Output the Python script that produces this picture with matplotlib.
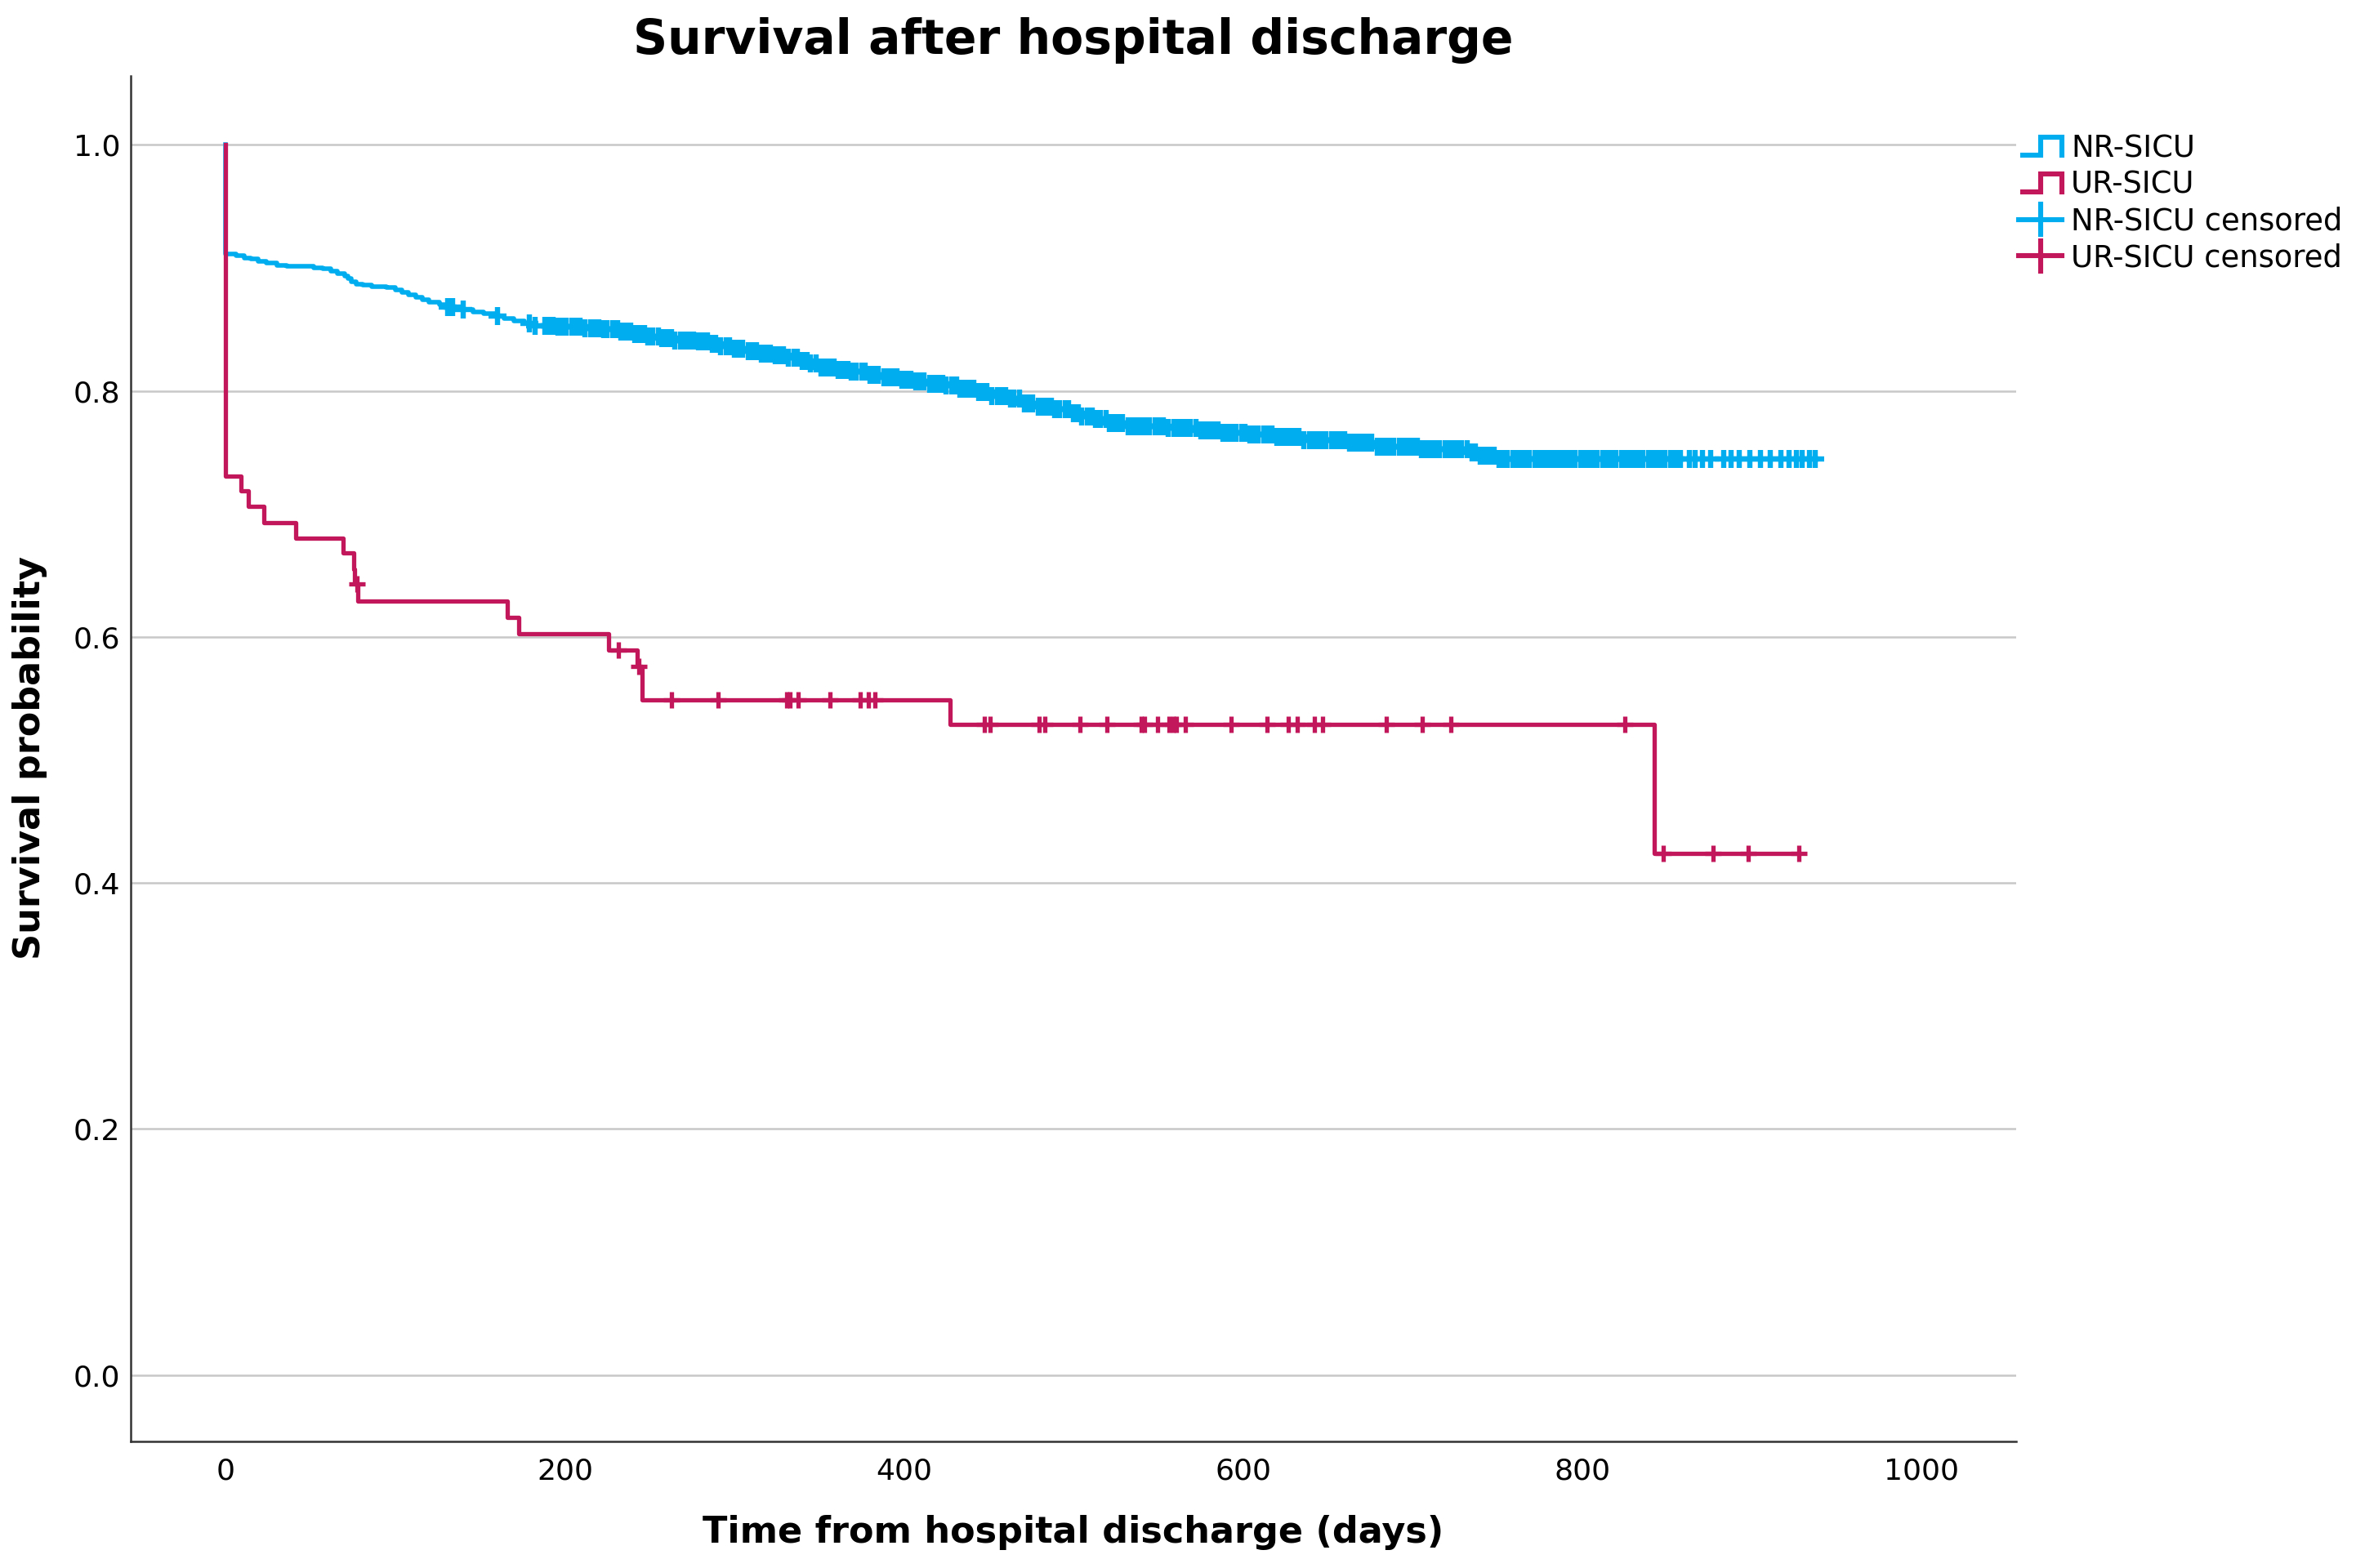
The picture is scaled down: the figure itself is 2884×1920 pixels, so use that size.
import numpy as np
import matplotlib
matplotlib.use('Agg')
import matplotlib.pyplot as plt
from matplotlib.lines import Line2D
from matplotlib.legend_handler import HandlerBase

# Colours
nr_color = '#00AEEF'
ur_color = '#C2185B'

# NR-SICU: step knots (days, survival after the step)
nr_time = [0, 0, 6, 11, 15, 19, 24, 30, 36,
           52, 57, 62, 66, 70, 72, 74, 77, 81, 86,
           95, 100, 104, 108, 112, 116, 120, 126, 131, 137,
           146, 152, 159, 164, 170, 176, 182, 195, 210, 221,
           232, 240, 248, 256, 264, 277, 285, 292, 300, 307,
           314, 323, 332, 338, 344, 350, 360, 369, 378, 387,
           397, 406, 415, 424, 433, 443, 452, 461, 470, 479,
           488, 498, 505, 512, 521, 530, 555, 573, 588, 604,
           619, 635, 662, 678, 705, 733, 739, 751]
nr_surv = [1.0, 0.911, 0.910, 0.908, 0.907, 0.905, 0.904, 0.902, 0.901,
           0.900, 0.899, 0.897, 0.895, 0.893, 0.891, 0.889, 0.887, 0.886, 0.885,
           0.884, 0.882, 0.880, 0.878, 0.876, 0.874, 0.872, 0.870, 0.868, 0.866,
           0.864, 0.863, 0.861, 0.859, 0.857, 0.855, 0.853, 0.852, 0.851, 0.850,
           0.848, 0.846, 0.844, 0.843, 0.841, 0.840, 0.838, 0.836, 0.834, 0.832,
           0.830, 0.829, 0.827, 0.824, 0.822, 0.819, 0.817, 0.8155, 0.813, 0.811,
           0.809, 0.8077, 0.806, 0.8044, 0.802, 0.799, 0.796, 0.7936, 0.790, 0.787,
           0.785, 0.782, 0.779, 0.777, 0.774, 0.7713, 0.770, 0.768, 0.766, 0.7647,
           0.7624, 0.760, 0.758, 0.7547, 0.7525, 0.750, 0.747, 0.7447]

# NR-SICU censored times (very dense from ~190 days on)
nr_cens = [131, 134, 140, 160.5, 179, 182.5,
           188, 191, 193, 196, 199, 201, 204, 207, 209, 212, 215, 217, 220, 223,
           225, 228, 231, 233, 236, 239, 241, 244, 247, 249, 252, 255, 257, 260,
           263, 265, 268, 271, 273, 276, 279, 281, 284, 287, 289, 292, 295, 297,
           300, 303, 305, 308, 311, 313, 316, 319, 321, 324, 327, 329, 332, 335,
           337, 340, 343, 345, 348, 351, 353, 356, 359, 361, 364, 367, 369, 372,
           375, 377, 380, 383, 385, 388, 391, 393, 396, 399, 401, 404, 407, 409,
           412, 415, 417, 420, 423, 425, 428, 431, 433, 436, 439, 441, 444, 447,
           449, 452, 455, 457, 460, 463, 465, 468, 471, 473, 476, 479, 481, 484,
           487, 489, 492, 495, 497, 500, 503, 505, 508, 511, 513, 516, 519, 521,
           524, 527, 529, 532, 535, 537, 540, 543, 545, 548, 551, 553, 556, 559,
           561, 564, 567, 569, 572, 575, 577, 580, 583, 585, 588, 591, 593, 596,
           599, 601, 604, 607, 609, 612, 615, 617, 620, 623, 625, 628, 631, 633,
           636, 639, 641, 644, 647, 649, 652, 655, 657, 660, 663, 665, 668, 671,
           673, 676, 679, 681, 684, 687, 689, 692, 695, 697, 700, 703, 705, 708,
           711, 713, 716, 719, 721, 724, 727, 729, 732, 735, 737, 740, 743, 745,
           748, 751, 753, 756, 759, 761, 764, 767, 769, 772, 775, 777, 780, 783,
           785, 788, 791, 793, 796, 799, 801, 804, 807, 809, 812, 815, 817, 820,
           823, 825, 828, 831, 833, 836, 839, 841, 844, 847, 849, 852, 855, 858,
           863.4, 866.5, 871, 875.7, 883.4, 888, 892.6, 898.8, 904.9, 911,
           917.2, 921.8, 926.4, 929.5, 934.1, 937.2]

# UR-SICU: step knots and censored times
ur_time = [0, 0, 9.0, 13.3, 22.4, 41.3, 69.2, 75.3, 76.2, 78.0,
           166, 173, 226, 242.7, 245.5, 427, 842.5]
ur_surv = [1.0, 0.731, 0.7185, 0.706, 0.693, 0.680, 0.668, 0.655, 0.643, 0.629,
           0.616, 0.6025, 0.589, 0.576, 0.549, 0.529, 0.424]
ur_cens = [77.4, 231.7, 243.6, 263, 290.5, 331, 333, 337.5, 356.5, 374, 379, 383,
           447.5, 451, 479.5, 483, 504, 519.5, 540, 542, 549.5, 556.5, 558.5,
           560.5, 566, 593, 614, 626.5, 632, 642, 647, 684.5, 705.5, 722.5, 825,
           848, 877, 898, 928]

labels = ['NR-SICU', 'UR-SICU', 'NR-SICU censored', 'UR-SICU censored']


def surv_at(times, surv, t):
    idx = np.searchsorted(times, t, side='right') - 1
    return np.asarray(surv)[idx]


class StepHandler(HandlerBase):
    def create_artists(self, legend, orig_handle, xdescent, ydescent,
                       width, height, fontsize, trans):
        x0 = -xdescent
        x1 = x0 + width
        xm = x0 + 0.45 * width
        y0 = -ydescent + 0.0 * height
        y1 = -ydescent + 1.0 * height
        ln = Line2D([x0, xm, xm, x1, x1], [y0, y0, y1, y1, y0],
                    color=orig_handle.get_color(), lw=2.2,
                    solid_joinstyle='miter', transform=trans)
        return [ln]


class CensHandler(HandlerBase):
    def create_artists(self, legend, orig_handle, xdescent, ydescent,
                       width, height, fontsize, trans):
        x0 = -xdescent - 0.1 * width
        x1 = -xdescent + width
        ym = -ydescent + 0.5 * height
        xc = (x0 + x1) / 2
        h = 0.5 * fontsize
        c = orig_handle.get_color()
        hl = Line2D([x0, x1], [ym, ym], color=c, lw=2.2, transform=trans)
        vl = Line2D([xc, xc], [ym - h, ym + h], color=c, lw=2.2, transform=trans)
        return [hl, vl]


fig = plt.figure(figsize=(14.42, 9.6), dpi=200)
ax = fig.add_axes([0.0555, 0.0807, 0.8003, 0.8709])

# Step curves
nr_end = nr_cens[-1]
ur_end = ur_cens[-1]
ax.step(nr_time + [nr_end], nr_surv + [nr_surv[-1]], where='post',
        color=nr_color, lw=2.0, zorder=3)
ax.plot(nr_cens, surv_at(nr_time, nr_surv, nr_cens), '+', color=nr_color,
        ms=8, mew=2.3, zorder=3)
ax.step(ur_time + [ur_end], ur_surv + [ur_surv[-1]], where='post',
        color=ur_color, lw=1.9, zorder=4)
ax.plot(ur_cens, surv_at(ur_time, ur_surv, ur_cens), '+', color=ur_color,
        ms=7, mew=1.9, zorder=4)

ax.set_xlim(-56, 1056)
ax.set_ylim(-0.054, 1.056)
ax.set_xticks([0, 200, 400, 600, 800, 1000])
ax.set_yticks([0.0, 0.2, 0.4, 0.6, 0.8, 1.0])
ax.set_yticklabels(['0.0', '0.2', '0.4', '0.6', '0.8', '1.0'])
ax.tick_params(axis='both', length=0, labelsize=13, colors='black')
ax.tick_params(axis='x', pad=7)
ax.tick_params(axis='y', pad=4.5)
ax.yaxis.grid(True, color='#C8C8C8', lw=0.9)
ax.set_axisbelow(True)
for s in ['top', 'right']:
    ax.spines[s].set_visible(False)
for s in ['left', 'bottom']:
    ax.spines[s].set_color('#333333')
    ax.spines[s].set_linewidth(0.9)

fig.text(0.4556, 0.974, 'Survival after hospital discharge', ha='center',
         va='center', fontsize=21, fontweight='bold')
fig.text(0.4556, 0.0229, 'Time from hospital discharge (days)', ha='center',
         va='center', fontsize=16, fontweight='bold')
fig.text(0.0128, 0.5167, 'Survival probability', ha='center', va='center',
         rotation=90, fontsize=16, fontweight='bold')

h_nr = Line2D([], [], color=nr_color)
h_ur = Line2D([], [], color=ur_color)
h_nrc = Line2D([], [], color=nr_color, marker='+')
h_urc = Line2D([], [], color=ur_color, marker='+')
fig.legend([h_nr, h_ur, h_nrc, h_urc], labels, loc='upper left',
           bbox_to_anchor=(0.8585, 0.9150), bbox_transform=fig.transFigure,
           frameon=False, fontsize=13.3, handlelength=1.3, handleheight=0.55,
           handletextpad=0.3, labelspacing=0.21, borderpad=0, borderaxespad=0,
           handler_map={h_nr: StepHandler(), h_ur: StepHandler(),
                        h_nrc: CensHandler(), h_urc: CensHandler()})

fig.savefig('out.png', dpi=200)
